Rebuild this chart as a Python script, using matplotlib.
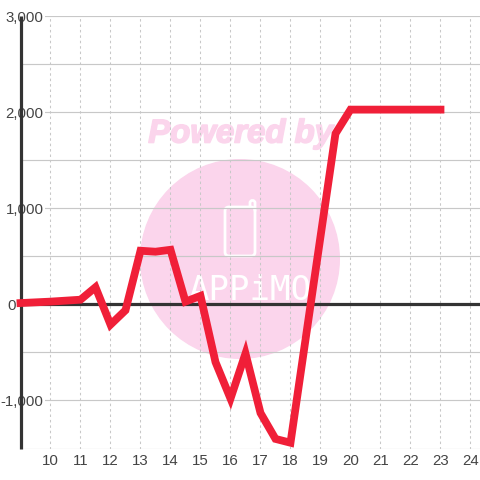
import matplotlib

matplotlib.use("Agg")
import matplotlib.patheffects as pe
import matplotlib.pyplot as plt
from matplotlib.patches import Circle, FancyBboxPatch
from matplotlib.ticker import FuncFormatter

hours = [9, 10, 11, 11.5, 12, 12.5, 13, 13.5, 14, 14.5, 15, 15.5, 16, 16.5, 17, 17.5,
         18, 19.5, 20, 20.5, 21, 21.5, 22, 22.5, 23]
values = [15, 30, 50, 180, -210, -60, 560, 550, 570, 30, 90, -600, -980, -510, -1130, -1400,
          -1440, 1780, 2030, 2030, 2030, 2030, 2030, 2030, 2030]
x_ticks = list(range(10, 25))
y_major = [-1000, 0, 1000, 2000, 3000]
y_minor = [-1500, -500, 500, 1500, 2500]

plt.rcParams["font.family"] = ["Liberation Sans", "DejaVu Sans"]
fig = plt.figure(figsize=(4.8, 4.8), dpi=100)
ax = fig.add_axes([20.5 / 480, 1 - 448.5 / 480, 459.5 / 480, 432 / 480])
ax.set_xlim(9, 24.317)
ax.set_ylim(-1500, 3000)

# watermark, in pixel coordinates of the figure
pink = "#fbd5ec"
bg = fig.add_axes([0, 0, 1, 1], zorder=-1)
bg.set_xlim(0, 480)
bg.set_ylim(480, 0)
bg.axis("off")
bg.add_patch(Circle((240, 259), 100, fc=pink, ec="none"))
bg.text(240.5, 134, "Powered by", color=pink, fontsize=23.7, fontweight="bold", fontstyle="italic",
        ha="center", va="center", path_effects=[pe.withStroke(linewidth=1.2, foreground=pink)])
bg.add_patch(FancyBboxPatch((225, 207), 30, 49, boxstyle="round,pad=0,rounding_size=4",
                            fc="none", ec="white", lw=2))
bg.plot([250, 250, 251.5, 253.5, 255, 255], [207, 202, 200.5, 200.5, 202, 210],
        color="white", lw=2, solid_joinstyle="round")
bg.text(250, 291, "APPiMO", color="white", fontsize=24.5, family="DejaVu Sans Mono",
        ha="center", va="center")
ax.patch.set_alpha(0)

ax.set_xticks(x_ticks)
ax.set_yticks(y_major)
ax.set_yticks(y_minor, minor=True)
ax.yaxis.set_major_formatter(FuncFormatter(lambda v, _: "" if v == 0 else f"{v:,.0f}"))
ax.grid(axis="x", color="#c8c8c8", lw=0.75, linestyle=(0, (2.4, 2.8)))
ax.grid(axis="y", which="both", color="#c8c8c8", lw=0.85)
ax.set_axisbelow(True)
ax.tick_params(which="both", length=0)
ax.tick_params(axis="x", labelsize=10.8, labelcolor="#444444", pad=4.2)
ax.tick_params(axis="y", labelsize=10.8, labelcolor="#444444", pad=-16.5)
for label in ax.get_yticklabels():
    label.set_bbox(dict(fc="white", ec="none", pad=1))
    label.set_zorder(5)
    label.set_verticalalignment("center_baseline")
ax.annotate("0", xy=(0, 0), xycoords=ax.get_yaxis_transform(), xytext=(-3.2, 0),
            textcoords="offset points", ha="right", va="center_baseline", fontsize=10.8,
            color="#444444", annotation_clip=False)

for side in ["top", "right", "bottom"]:
    ax.spines[side].set_visible(False)
ax.spines["left"].set_color("#333333")
ax.spines["left"].set_linewidth(2.3)
ax.spines["left"].set_capstyle("butt")
ax.axhline(0, color="#333333", lw=2.3, zorder=2)
ax.plot(hours, values, color="#f01f38", lw=5.6, solid_joinstyle="miter", zorder=4, clip_on=False)

fig.savefig("out.png", dpi=100)
